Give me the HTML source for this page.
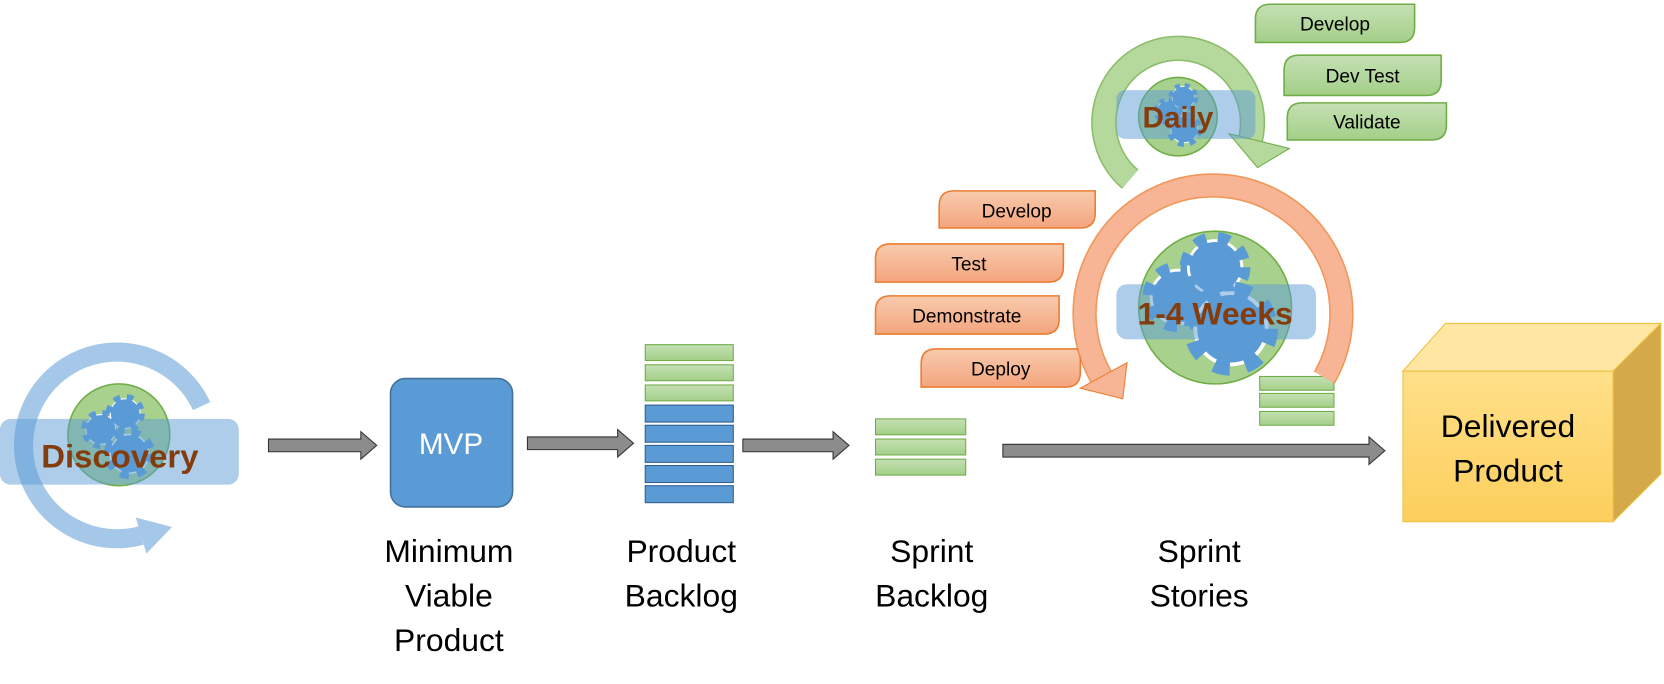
<!DOCTYPE html>
<html><head><meta charset="utf-8"><style>
html,body{margin:0;padding:0;background:#fff}
svg{display:block}
text{font-family:"Liberation Sans","DejaVu Sans",sans-serif}
</style></head><body>
<svg width="1664" height="684" viewBox="0 0 1568 645" preserveAspectRatio="none" xmlns="http://www.w3.org/2000/svg">
<defs>
<linearGradient id="og" x1="0" y1="0" x2="0" y2="1"><stop offset="0" stop-color="#f8cbad"/><stop offset="1" stop-color="#f4a57e"/></linearGradient>
<linearGradient id="gg" x1="0" y1="0" x2="0" y2="1"><stop offset="0" stop-color="#c5e0b4"/><stop offset="1" stop-color="#a3cf88"/></linearGradient>
<linearGradient id="yg" x1="0" y1="0" x2="0" y2="1"><stop offset="0" stop-color="#ffe08a"/><stop offset="1" stop-color="#fccf5c"/></linearGradient>
<g id="gear"><circle r="14" fill="#5b9bd5"/><circle r="15" fill="none" stroke="#5b9bd5" stroke-width="7" stroke-dasharray="6 6"/></g>
</defs>

<!-- Discovery -->
<path d="M190 383 A88 88 0 1 0 133 505" fill="none" stroke="#5b9bd5" stroke-width="18" opacity="0.55"/>
<polygon points="162,497 138,522 128,488" fill="#5b9bd5" opacity="0.55"/>
<circle cx="112" cy="410" r="48" fill="#a9d18e" stroke="#70ad47" stroke-width="1.5"/>
<g stroke="#fff" stroke-width="1"><use href="#gear" transform="translate(95,405) scale(1.0)"/><use href="#gear" transform="translate(118,390) scale(1.0)"/><use href="#gear" transform="translate(122,428) scale(1.3)"/></g>
<rect x="0" y="395" width="225" height="62" rx="10" fill="#5b9bd5" opacity="0.5"/>
<text x="113" y="441" font-size="31" font-weight="bold" fill="#843c0c" text-anchor="middle">Discovery</text>

<!-- arrows -->
<g fill="#8c8c8c" stroke="#333" stroke-width="1">
<polygon points="253,414 340,414 340,407 355,420 340,433 340,426 253,426"/>
<polygon points="497,412 582,412 582,405 597,418 582,431 582,424 497,424"/>
<polygon points="700,414 785,414 785,407 800,420 785,433 785,426 700,426"/>
<polygon points="945,419 1290,419 1290,412 1305,425 1290,438 1290,431 945,431"/>
</g>

<!-- MVP -->
<rect x="368" y="357" width="115" height="121" rx="14" fill="#5b9bd5" stroke="#41719c" stroke-width="1.5"/>
<text x="425" y="428" font-size="28" fill="#fff" text-anchor="middle">MVP</text>

<!-- product backlog -->
<g stroke="#70ad47" fill="url(#gg)">
<rect x="608" y="325" width="83" height="15"/><rect x="608" y="344" width="83" height="15"/><rect x="608" y="363" width="83" height="15"/>
</g>
<g stroke="#2e5f8f" fill="#5b9bd5">
<rect x="608" y="382" width="83" height="16"/><rect x="608" y="401" width="83" height="16"/><rect x="608" y="420" width="83" height="16"/><rect x="608" y="439" width="83" height="16"/><rect x="608" y="458" width="83" height="16"/>
</g>
<!-- sprint backlog -->
<g stroke="#70ad47" fill="url(#gg)">
<rect x="825" y="395" width="85" height="15"/><rect x="825" y="414" width="85" height="15"/><rect x="825" y="433" width="85" height="15"/>
<rect x="1187" y="355" width="70" height="13"/><rect x="1187" y="371" width="70" height="13"/><rect x="1187" y="388" width="70" height="13"/>
</g>

<!-- labels -->
<g font-size="30" fill="#000" text-anchor="middle">
<text x="423" y="530">Minimum</text><text x="423" y="572">Viable</text><text x="423" y="614">Product</text>
<text x="642" y="530">Product</text><text x="642" y="572">Backlog</text>
<text x="878" y="530">Sprint</text><text x="878" y="572">Backlog</text>
<text x="1130" y="530">Sprint</text><text x="1130" y="572">Stories</text>
</g>

<!-- cube -->
<polygon points="1322,350 1362,305 1565,305 1520,350" fill="#ffe6a3" stroke="#f0c040"/>
<polygon points="1520,350 1565,305 1565,447 1520,492" fill="#d4a94a" stroke="#f0c040"/>
<rect x="1322" y="350" width="198" height="142" fill="url(#yg)" stroke="#f0c040"/>
<text x="1421" y="412" font-size="30" text-anchor="middle">Delivered</text>
<text x="1421" y="454" font-size="30" text-anchor="middle">Product</text>

<!-- orange boxes -->
<g fill="url(#og)" stroke="#ed7d31" stroke-width="1.5">
<path d="M885 215 V194 Q885 180 899 180 H1032 V201 Q1032 215 1018 215 Z"/>
<path d="M825 266 V244 Q825 230 839 230 H1002 V252 Q1002 266 988 266 Z"/>
<path d="M825 315 V293 Q825 279 839 279 H998 V301 Q998 315 984 315 Z"/>
<path d="M868 365 V343 Q868 329 882 329 H1018 V351 Q1018 365 1004 365 Z"/>
</g>
<g font-size="18" text-anchor="middle">
<text x="958" y="205">Develop</text><text x="913" y="255">Test</text><text x="911" y="304">Demonstrate</text><text x="943" y="354">Deploy</text>
</g>

<!-- green boxes -->
<g fill="url(#gg)" stroke="#70ad47" stroke-width="1.5">
<path d="M1183 40 V18 Q1183 4 1197 4 H1333 V26 Q1333 40 1319 40 Z"/>
<path d="M1210 90 V66 Q1210 52 1224 52 H1358 V76 Q1358 90 1344 90 Z"/>
<path d="M1213 132 V111 Q1213 97 1227 97 H1363 V118 Q1363 132 1349 132 Z"/>
</g>
<g font-size="18" text-anchor="middle">
<text x="1258" y="29">Develop</text><text x="1284" y="78">Dev Test</text><text x="1288" y="121">Validate</text>
</g>

<!-- green daily ring -->
<path d="M1065 169 A70 70 0 1 1 1178 133" fill="none" stroke="#70ad47" stroke-width="24" opacity="0.8"/>
<path d="M1065 169 A70 70 0 1 1 1178 133" fill="none" stroke="#b5d99c" stroke-width="21"/>
<polygon points="1185,158 1215,140 1158,126" fill="#b5d99c" stroke="#70ad47"/>
<circle cx="1110" cy="110" r="37" fill="#a9d18e" stroke="#70ad47" stroke-width="1.5"/>
<g stroke="#fff" stroke-width="1"><use href="#gear" transform="translate(1100,105) scale(0.7)"/><use href="#gear" transform="translate(1115,92) scale(0.75)"/><use href="#gear" transform="translate(1116,122) scale(0.9)"/></g>
<rect x="1052" y="85" width="131" height="46" rx="8" fill="#5b9bd5" opacity="0.5"/>
<text x="1110" y="120" font-size="28" font-weight="bold" fill="#843c0c" text-anchor="middle">Daily</text>

<!-- orange weeks ring -->
<path d="M1248 356 A121 121 0 1 0 1038 356" fill="none" stroke="#ed7d31" stroke-width="23" opacity="0.8"/>
<path d="M1248 356 A121 121 0 1 0 1038 356" fill="none" stroke="#f7b596" stroke-width="20"/>
<polygon points="1058,376 1062,342 1018,366" fill="#f7b596" stroke="#ed7d31"/>
<circle cx="1145" cy="290" r="72" fill="#a9d18e" stroke="#70ad47" stroke-width="1.5"/>
<g stroke="#fff" stroke-width="1.5"><use href="#gear" transform="translate(1110,280) scale(1.8)"/><use href="#gear" transform="translate(1145,252) scale(1.8)"/><use href="#gear" transform="translate(1160,310) scale(2.4)"/></g>
<rect x="1052" y="268" width="188" height="52" rx="10" fill="#5b9bd5" opacity="0.5"/>
<text x="1145" y="306" font-size="30" font-weight="bold" fill="#843c0c" text-anchor="middle">1-4 Weeks</text>
</svg>
</body></html>
